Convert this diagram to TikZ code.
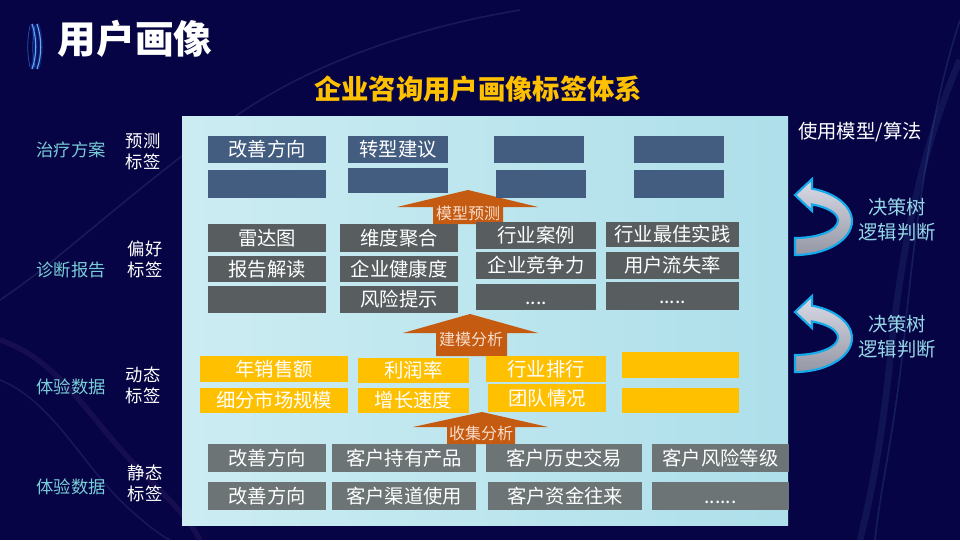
\documentclass[tikz,border=0pt]{standalone}
\usepackage{fontspec}
\newfontfamily\cjk{Noto Sans CJK SC}
\definecolor{bgc}{RGB}{6,4,68}
\definecolor{boxblue}{RGB}{66,93,128}
\definecolor{grayA}{RGB}{88,94,96}
\definecolor{grayB}{RGB}{108,116,118}
\definecolor{ylw}{RGB}{255,192,0}
\definecolor{org}{RGB}{197,90,17}
\definecolor{lcyan}{RGB}{120,205,215}
\definecolor{rcyan}{RGB}{150,215,230}
\definecolor{peach}{RGB}{248,222,205}
\definecolor{arrline}{RGB}{20,170,235}
\definecolor{glowblue}{RGB}{40,130,255}
\newcommand\mybox[7]{%
  \pgfmathsetmacro\mbw{(#5-#3)*0.75}%
  \pgfmathsetmacro\mbh{(#6-#4)*0.75}%
  \node[#2, minimum width=\mbw pt, minimum height=\mbh pt] (#1) at ({(#3+#5)/2},{(#4+#6)/2}) {#7};}
\tikzset{
  cell/.style={inner sep=0pt, text=white, font=\cjk\fontsize{14.5}{17}\selectfont, execute at begin node={\vphantom{行}}},
  bluecell/.style={cell, fill=boxblue},
  graycell/.style={cell, fill=grayA},
  graycellB/.style={cell, fill=grayB},
  ylwcell/.style={cell, fill=ylw},
  leftlab/.style={text=lcyan, font=\cjk\fontsize{13}{15.75}\selectfont},
  taglab/.style={text=white, align=center, font=\cjk\fontsize{13}{15.75}\selectfont},
  rightlab/.style={text=rcyan, align=center, font=\cjk\fontsize{14.5}{18.75}\selectfont},
  blockarrow/.style={fill=org},
  arrlab/.style={text=peach, inner sep=0pt, font=\cjk\fontsize{12}{14}\selectfont},
  curvarr/.style={draw=arrline, line width=1.6pt, top color={rgb,255:red,218;green,221;blue,232}, bottom color={rgb,255:red,148;green,150;blue,164}},
  wave/.style={line width=1.2pt, opacity=0.18}
}
\begin{document}
\begin{tikzpicture}[x=0.75pt,y=-0.75pt]
\useasboundingbox (0,0) rectangle (960,540);
\fill[bgc] (0,0) rectangle (960,540);
% faint background waves
\draw[wave, color={rgb,255:red,120;green,120;blue,190}] (0,300) .. controls (60,260) and (120,200) .. (230,120) .. controls (300,70) and (400,30) .. (520,10);
\draw[wave, color={rgb,255:red,150;green,90;blue,170}, line width=4pt, opacity=0.12] (0,340) .. controls (60,360) and (90,420) .. (140,470) .. controls (170,500) and (190,520) .. (200,540);
\draw[wave, color={rgb,255:red,110;green,110;blue,200}] (0,380) .. controls (50,400) and (80,460) .. (120,500) .. controls (140,520) and (160,535) .. (170,540);
\draw[wave, color={rgb,255:red,90;green,140;blue,210}, line width=5pt, opacity=0.12] (960,60) .. controls (920,150) and (900,260) .. (890,360) .. controls (882,440) and (870,500) .. (860,540);
\draw[wave, color={rgb,255:red,90;green,140;blue,210}] (960,20) .. controls (930,110) and (915,230) .. (905,330) .. controls (895,430) and (880,490) .. (875,540);
% title decoration (glowing arcs)
\foreach \xx in {32,37}{
  \draw[glowblue, line width=3pt, opacity=0.25] (\xx,24) .. controls (\xx+5,38) and (\xx+5,56) .. (\xx,69);
  \draw[glowblue!70!white, line width=0.8pt] (\xx,24) .. controls (\xx+5,38) and (\xx+5,56) .. (\xx,69);
  \draw[glowblue, line width=0.6pt, opacity=0.6] (\xx-2,26) .. controls (\xx-5,40) and (\xx-5,54) .. (\xx-2,67);
}
% titles
\node[text=white, font=\cjk\bfseries\fontsize{29}{32}\selectfont] (title) at (135,39) {用户画像};
\node[text=ylw, font=\cjk\bfseries\fontsize{20.5}{24}\selectfont] (subtitle) at (478,89) {企业咨询用户画像标签体系};
% main panel
\path[left color={rgb,255:red,204;green,236;blue,242}, right color={rgb,255:red,174;green,223;blue,234}] (182,116) rectangle (788,525);
% block arrows
\fill[blockarrow] (468,190) -- (538,207) -- (503,207) -- (503,224) -- (433,224) -- (433,207) -- (397,207) -- cycle;
\fill[blockarrow] (470,314) -- (538,333) -- (507,333) -- (507,356) -- (436,356) -- (436,333) -- (403,333) -- cycle;
\fill[blockarrow] (482,412) -- (548,427) -- (515,427) -- (515,444) -- (447,444) -- (447,427) -- (413,427) -- cycle;
\node[arrlab] (a1) at (468,213) {模型预测};
\node[arrlab] (a2) at (471,339) {建模分析};
\node[arrlab] (a3) at (481,433) {收集分析};
% row: prediction tags
\mybox{p1}{bluecell}{208}{136}{326}{163}{改善方向}
\mybox{p2}{bluecell}{348}{136}{448}{163}{转型建议}
\mybox{p3}{bluecell}{494}{136}{584}{163}{}
\mybox{p4}{bluecell}{634}{136}{724}{163}{}
\mybox{p5}{bluecell}{208}{170}{326}{198}{}
\mybox{p6}{bluecell}{348}{168}{448}{193}{}
\mybox{p7}{bluecell}{496}{170}{586}{198}{}
\mybox{p8}{bluecell}{634}{170}{724}{198}{}
% preference tags
\mybox{r1}{graycell}{208}{224}{326}{252}{雷达图}
\mybox{r2}{graycell}{208}{256}{326}{282}{报告解读}
\mybox{r3}{graycell}{208}{286}{326}{313}{}
\mybox{r4}{graycell}{340}{224}{458}{252}{维度聚合}
\mybox{r5}{graycell}{340}{256}{458}{282}{企业健康度}
\mybox{r6}{graycell}{340}{286}{458}{313}{风险提示}
\mybox{r7}{graycell}{476}{222}{596}{249}{行业案例}
\mybox{r8}{graycell}{476}{252}{596}{279}{企业竞争力}
\mybox{r9}{graycell}{476}{284}{596}{310}{....}
\mybox{r10}{graycell}{606}{222}{739}{247}{行业最佳实践}
\mybox{r11}{graycell}{606}{252}{739}{279}{用户流失率}
\mybox{r12}{graycell}{606}{282}{739}{310}{.....}
% dynamic tags
\mybox{d1}{ylwcell}{200}{356}{348}{382}{年销售额}
\mybox{d2}{ylwcell}{358}{358}{469}{383}{利润率}
\mybox{d3}{ylwcell}{200}{388}{348}{413}{细分市场规模}
\mybox{d4}{ylwcell}{358}{388}{469}{413}{增长速度}
\mybox{d5}{ylwcell}{486}{356}{606}{382}{行业排行}
\mybox{d6}{ylwcell}{488}{384}{606}{412}{团队情况}
\mybox{d7}{ylwcell}{622}{352}{739}{378}{}
\mybox{d8}{ylwcell}{622}{388}{739}{413}{}
% static tags
\mybox{s1}{graycellB}{208}{444}{326}{472}{改善方向}
\mybox{s2}{graycellB}{332}{444}{476}{472}{客户持有产品}
\mybox{s3}{graycellB}{486}{444}{642}{472}{客户历史交易}
\mybox{s4}{graycellB}{652}{444}{789}{472}{客户风险等级}
\mybox{s5}{graycellB}{208}{482}{326}{510}{改善方向}
\mybox{s6}{graycellB}{332}{482}{476}{510}{客户渠道使用}
\mybox{s7}{graycellB}{488}{482}{642}{510}{客户资金往来}
\mybox{s8}{graycellB}{652}{482}{789}{510}{......}
% left labels
\node[leftlab] (l1) at (71,150) {治疗方案};
\node[leftlab] (l2) at (71,270) {诊断报告};
\node[leftlab] (l3) at (71,387) {体验数据};
\node[leftlab] (l4) at (71,487) {体验数据};
\node[taglab] (t1) at (143,151) {预测\\标签};
\node[taglab] (t2) at (145,259) {偏好\\标签};
\node[taglab] (t3) at (143,385) {动态\\标签};
\node[taglab] (t4) at (145,483) {静态\\标签};
% right side
\node[text=white, font=\cjk\fontsize{14.5}{17}\selectfont] (alg) at (860,132) {使用模型/算法};
\node[rightlab] (m1) at (897,220) {决策树\\逻辑判断};
\node[rightlab] (m2) at (897,337) {决策树\\逻辑判断};
\foreach \dy in {0,117}{
\begin{scope}[shift={(0,\dy)}]
\path[curvarr] (812,188.6) arc[start angle=-72.6, end angle=90, x radius=57, y radius=34] -- (795,238) arc[start angle=90, end angle=-66.7, x radius=43, y radius=17.5] -- (812,211) -- (795,195) -- (812,179) -- cycle;
\end{scope}}
\end{tikzpicture}
\end{document}
